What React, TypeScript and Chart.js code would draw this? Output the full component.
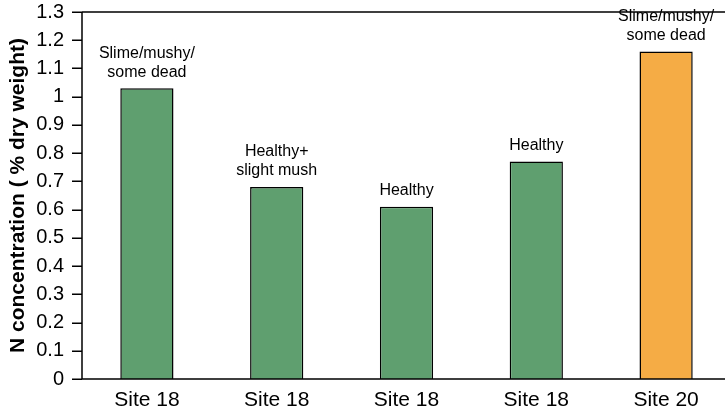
import React, { useEffect, useRef } from "react";
import { Chart, registerables } from "chart.js";

Chart.register(...registerables);

const categories = ["Site 18", "Site 18", "Site 18", "Site 18", "Site 20"];
const nValues = [1.03, 0.68, 0.61, 0.77, 1.16];
const barLabels = [
  ["Slime/mushy/", "some dead"],
  ["Healthy+", "slight mush"],
  ["Healthy"],
  ["Healthy"],
  ["Slime/mushy/", "some dead"],
];
const barColors = ["#5f9f6f", "#5f9f6f", "#5f9f6f", "#5f9f6f", "#f5ac45"];
const yTitle = "N concentration ( % dry weight)";

const FONT = "'Liberation Sans', Arial, Helvetica, sans-serif";

const framePlugin = {
  id: "frame",
  afterDatasetsDraw(chart: any) {
    const { ctx, chartArea } = chart;
    const y = chart.scales.y;
    ctx.save();
    ctx.strokeStyle = "#000";
    ctx.lineWidth = 1.5;
    ctx.beginPath();
    ctx.moveTo(chartArea.left, chartArea.top);
    ctx.lineTo(chart.width, chartArea.top);
    ctx.moveTo(chartArea.left, chartArea.bottom);
    ctx.lineTo(chart.width, chartArea.bottom);
    ctx.moveTo(chartArea.left, chartArea.top);
    ctx.lineTo(chartArea.left, chartArea.bottom);
    y.ticks.forEach((t: any) => {
      const py = Math.round(y.getPixelForValue(t.value)) + 0.25;
      ctx.moveTo(chartArea.left - 10, py);
      ctx.lineTo(chartArea.left, py);
    });
    ctx.stroke();
    ctx.restore();
  },
};

const labelPlugin = {
  id: "barLabels",
  afterDatasetsDraw(chart: any) {
    const { ctx } = chart;
    const meta = chart.getDatasetMeta(0);
    ctx.save();
    ctx.fillStyle = "#000";
    ctx.font = `16px ${FONT}`;
    ctx.textAlign = "center";
    ctx.textBaseline = "middle";
    meta.data.forEach((bar: any, i: number) => {
      const lines = barLabels[i] || [];
      const n = lines.length;
      lines.forEach((line: string, j: number) => {
        const ly = bar.y - 16 - (n - 1 - j) * 19;
        ctx.fillText(line, bar.x, ly);
      });
    });
    ctx.restore();
  },
};

export default function App() {
  const ref = useRef<HTMLCanvasElement>(null);
  useEffect(() => {
    if (!ref.current) return;
    const chart = new Chart(ref.current, {
      type: "bar",
      data: {
        labels: categories,
        datasets: [
          {
            data: nValues,
            backgroundColor: barColors,
            borderColor: "#000",
            borderWidth: 1.5,
            barPercentage: 0.82,
            categoryPercentage: 0.5,
          },
        ],
      },
      options: {
        responsive: false,
        animation: false,
        devicePixelRatio: 1,
        layout: { padding: { top: 12, left: 0, right: 9, bottom: 0 } },
        plugins: {
          legend: { display: false },
          tooltip: { enabled: false },
        },
        scales: {
          x: {
            grid: { display: false, drawTicks: false },
            border: { display: false },
            ticks: {
              color: "#000",
              font: { family: FONT, size: 21 },
              padding: 9,
              maxRotation: 0,
            },
            afterFit(scale: any) {
              scale.height = 34;
              scale.paddingLeft = 0;
              scale.paddingRight = 0;
            },
          },
          y: {
            min: 0,
            max: 1.3,
            grid: {
              display: false,
              drawOnChartArea: false,
              drawTicks: true,
              tickLength: 10,
            },
            border: { display: false },
            ticks: {
              stepSize: 0.1,
              color: "#000",
              font: { family: FONT, size: 20 },
              padding: 8,
              callback: (v: any) => String(Math.round(Number(v) * 10) / 10),
            },
            title: {
              display: true,
              text: yTitle,
              color: "#000",
              font: { family: FONT, size: 21, weight: "bold" },
              padding: { top: 6, bottom: 0 },
            },
            afterFit(scale: any) {
              scale.width = 82;
              scale.paddingTop = 0;
              scale.paddingBottom = 0;
            },
          },
        },
      },
      plugins: [framePlugin, labelPlugin],
    });
    return () => chart.destroy();
  }, []);
  return (
    <div
      style={{
        position: "fixed",
        left: 0,
        top: 0,
        width: 725,
        height: 413,
        overflow: "hidden",
        background: "#fff",
      }}
    >
      <canvas ref={ref} width={740} height={413} style={{ display: "block" }} />
    </div>
  );
}
